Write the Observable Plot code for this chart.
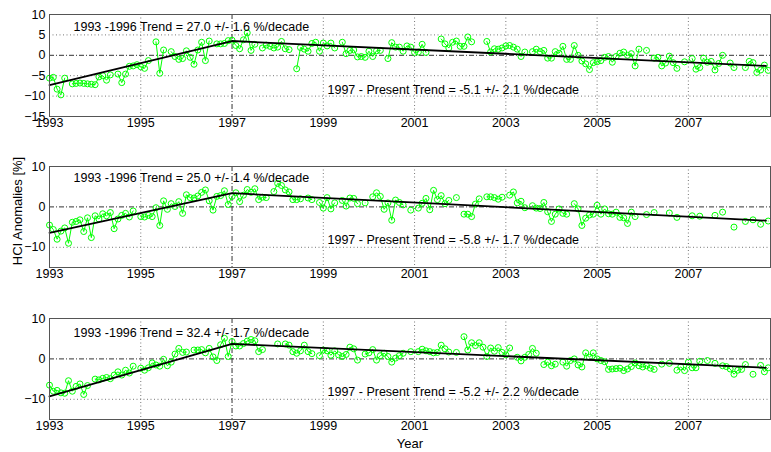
<!DOCTYPE html>
<html>
<head>
<meta charset="utf-8">
<script src="https://cdn.jsdelivr.net/npm/d3@7"></script>
<script src="https://cdn.jsdelivr.net/npm/@observablehq/plot@0.6"></script>
<style>
  html, body { margin: 0; padding: 0; background: #fff; }
  #wrap { width: 771px; height: 452px; position: relative; background: #fff; }
  #wrap svg { display: block; }
</style>
</head>
<body>
<div id="wrap"></div>
<script>
// ---- Data (monthly anomalies starting Jan 1993; null = missing month) ----
const startYear = 1993;
const hci1 = [
  -5.6,-5.4,-8.3,-9.7,-5.6,null,-7.0,-6.9,-6.8,-6.9,
  -7.0,-7.1,-7.2,-5.3,-5.0,-6.1,-4.8,null,-4.6,-6.7,
  -4.6,-2.7,-2.6,-2.3,-2.8,-3.2,-1.3,null,3.3,-4.4,
  1.3,null,0.9,-0.3,-1.0,-0.8,1.1,-0.5,-2.2,1.3,
  3.2,-1.3,3.5,null,2.8,2.8,2.9,3.6,3.7,2.4,
  1.6,3.8,5.5,1.2,2.7,null,1.8,2.5,2.2,1.8,
  2.0,3.4,1.6,1.4,null,-3.3,1.9,1.5,1.0,2.9,
  3.2,1.0,3.0,2.3,3.0,1.8,null,3.2,0.4,1.2,
  1.3,-0.4,-0.3,-0.5,1.0,-0.3,1.1,1.2,null,-0.8,
  3.1,2.0,2.0,1.0,2.3,2.0,0.7,0.8,2.7,0.7,
  null,null,null,4.0,2.8,1.8,3.2,3.5,2.2,2.2,
  4.5,3.3,null,null,null,3.4,0.8,1.6,1.5,1.8,
  2.3,2.4,2.0,1.5,-0.3,0.8,null,0.9,1.5,0.9,
  1.2,-0.7,-0.7,0.9,0.5,2.2,-1.0,-1.0,2.4,0.0,
  -1.4,-2.1,-3.5,-1.8,-1.6,-1.3,-0.5,-0.3,-1.7,-0.3,
  0.5,0.8,0.0,0.4,-2.6,1.5,null,1.2,null,-0.7,
  -0.5,-2.6,-1.9,-0.2,-1.8,-3.2,null,-1.6,null,-0.8,
  -3.4,-3.0,-0.7,-1.7,-1.5,-3.6,-2.0,0.0,null,-1.9,
  -3.0,null,null,-3.0,-1.5,-1.8,-4.2,-3.6,-2.4,-3.7
];
const hci2 = [
  -4.5,-5.6,-8.0,-6.0,-5.2,-9.0,-3.8,-3.6,-3.2,-6.1,
  -2.7,-7.6,-2.2,-3.0,-1.7,-2.2,-1.4,-5.4,-3.0,-2.1,
  -1.6,-2.5,-1.0,null,-2.4,-2.5,-2.1,-2.4,-0.2,-4.6,
  1.5,-0.6,0.8,0.1,1.3,-1.6,3.0,2.3,2.2,2.7,
  3.6,4.2,1.5,-0.8,2.6,2.8,4.0,0.6,2.6,3.5,
  1.3,2.9,4.3,3.6,4.5,1.8,2.4,2.3,null,3.8,
  5.8,5.3,4.2,3.7,1.8,1.8,2.0,null,2.2,1.8,
  null,1.1,-0.3,2.3,-0.5,1.0,null,1.6,0.2,2.2,
  2.1,0.8,null,1.0,null,2.5,3.5,2.6,-0.6,1.0,
  -3.3,1.7,1.1,0.5,null,-0.8,null,-0.3,0.9,2.1,
  -0.7,4.1,1.8,2.8,0.8,1.6,null,2.3,null,-1.8,
  -1.8,-2.4,0.7,2.0,null,2.5,2.5,2.3,1.9,2.4,
  null,2.9,3.7,1.0,1.4,-0.2,null,0.3,-0.3,-0.4,
  1.1,-1.2,-3.6,-1.8,-0.5,-1.6,-1.8,null,0.8,-0.5,
  -4.6,-2.8,-2.0,-1.8,0.4,-1.8,-0.5,-1.7,-1.8,-1.3,
  -2.6,-2.7,-4.1,-1.3,-2.4,null,null,-1.9,null,-1.4,
  null,null,null,-1.5,null,-2.6,null,null,null,-2.2,
  null,-2.3,null,null,null,-2.1,null,-1.3,null,null,
  -5.0,null,null,-3.6,null,-3.2,null,-4.3,null,-3.5
];
const hci3 = [
  -6.5,-8.0,-7.8,-8.4,-8.5,-5.4,-8.0,-6.8,-6.2,-8.8,
  -6.6,null,-5.0,-5.2,-4.8,-4.6,-4.9,-4.0,-3.2,-4.0,
  -2.8,-3.5,-1.8,null,-2.3,-2.8,-2.2,-1.0,-1.5,-1.8,
  -0.1,-1.7,-0.8,1.2,2.6,1.6,1.7,null,2.2,2.2,
  2.3,1.5,2.6,0.5,-0.4,3.5,5.1,0.6,4.3,3.2,
  3.2,3.8,4.4,4.8,4.5,1.8,2.3,null,null,null,
  3.7,null,3.7,3.4,1.8,1.4,2.0,3.4,1.8,1.3,
  null,0.8,2.2,2.0,0.9,2.0,1.0,0.6,1.1,2.9,
  2.5,-0.3,null,1.2,1.5,2.3,-0.3,0.8,1.4,0.6,
  -0.8,0.2,0.8,1.4,null,1.8,null,1.8,2.4,2.0,
  1.8,1.5,1.6,3.4,2.5,1.7,null,1.6,null,5.5,
  2.2,4.0,3.3,4.0,2.9,0.6,2.7,1.9,2.8,1.6,
  1.0,2.7,null,0.4,-0.5,0.4,1.1,2.6,1.4,null,
  -1.4,-0.8,-1.7,-1.3,null,-0.8,-1.8,-0.4,0.0,-1.5,
  -2.0,1.5,0.4,1.5,0.0,-0.4,-0.7,-2.6,-2.5,-2.4,
  -2.3,-2.9,-2.5,-1.9,-1.0,-1.7,-2.0,-1.7,-2.3,-2.6,
  null,-1.3,null,-1.1,null,-2.8,-2.0,-2.9,-0.8,-2.2,
  -2.2,-0.6,null,-0.4,null,-1.1,null,-1.7,-1.9,-2.5,
  -3.8,-2.8,-2.6,-1.4,null,-3.8,null,-1.6,-3.2,-2.2
];

// Piecewise trend lines
const trendYears = [1993, 1997, 2008.7];
const trend1 = [-7.3, 3.5, -2.6];
const trend2 = [-6.4, 3.4, -3.4];
const trend3 = [-9.3, 3.7, -2.2];

// Annotation texts
const earlyLabels = [
  "1993 -1996 Trend = 27.0 +/- 1.6 %/decade",
  "1993 -1996 Trend = 25.0 +/- 1.4 %/decade",
  "1993 -1996 Trend = 32.4 +/- 1.7 %/decade"
];
const lateLabels = [
  "1997 - Present Trend = -5.1 +/- 2.1 %/decade",
  "1997 - Present Trend = -5.8 +/- 1.7 %/decade",
  "1997 - Present Trend = -5.2 +/- 2.2 %/decade"
];

// Axis ticks
const xTicks = [1993, 1995, 1997, 1999, 2001, 2003, 2005, 2007];
const yTicksTop = [-15, -10, -5, 0, 5, 10];
const yTicksOther = [-10, 0, 10];
const xDomain = [1993, 2008.8];
const yDomain = [-15, 10];
const breakYear = 1997;
const yLabel = "HCI Anomalies [%]";
const xLabel = "Year";

// ---- Drawing ----
const FONT = "'Liberation Sans', Arial, Helvetica, sans-serif";
const GREEN = "#00ff00";

function rowsOf(arr) {
  return arr.map((v, i) => ({t: startYear + i / 12, v}));
}

function panel({values, trend, yTicks, height, marginTop, marginBottom, early, late, earlyDy, lateDy, extras}) {
  const rows = rowsOf(values);
  const pts = rows.filter(d => d.v != null);
  const trendRows = trendYears.map((t, i) => ({t, v: trend[i]}));
  return Plot.plot({
    width: 771,
    height,
    marginLeft: 49,
    marginRight: 1,
    marginTop,
    marginBottom,
    style: {fontFamily: FONT, fontSize: "12.5px", color: "#000", background: "#fff"},
    x: {domain: xDomain},
    y: {domain: yDomain},
    marks: [
      Plot.gridX(xTicks.filter(d => d !== breakYear), {stroke: "#777", strokeOpacity: 1, strokeDasharray: "1,2.5"}),
      Plot.gridY(yTicks.filter(d => d !== 0), {stroke: "#777", strokeOpacity: 1, strokeDasharray: "1,2.5"}),
      Plot.ruleY([0], {stroke: "#333", strokeWidth: 1, strokeDasharray: "5,2,1,2"}),
      Plot.ruleX([breakYear], {stroke: "#333", strokeWidth: 1, strokeDasharray: "5,2,1,2"}),
      Plot.line(rows, {x: "t", y: "v", stroke: GREEN, strokeWidth: 1}),
      Plot.dot(pts, {x: "t", y: "v", r: 3, stroke: GREEN, strokeWidth: 1, fill: "none"}),
      Plot.line(trendRows, {x: "t", y: "v", stroke: "#000", strokeWidth: 1.8}),
      Plot.frame({stroke: "#555"}),
      Plot.axisX(xTicks, {tickSize: 0, tickPadding: 2, tickFormat: d => String(d), label: null, fontSize: 12.5}),
      Plot.axisY(yTicks, {tickSize: 0, tickPadding: 4, label: null, fontSize: 12.5}),
      Plot.text([early], {frameAnchor: "top-left", dx: 24, dy: earlyDy, textAnchor: "start", lineAnchor: "middle", fontSize: 12.5, fill: "#000"}),
      Plot.text([late], {frameAnchor: "top-left", dx: 278, dy: lateDy, textAnchor: "start", lineAnchor: "middle", fontSize: 12.5, fill: "#000"}),
      ...(extras || [])
    ]
  });
}

const wrap = document.getElementById("wrap");
wrap.appendChild(panel({
  values: hci1, trend: trend1, yTicks: yTicksTop,
  height: 140, marginTop: 14, marginBottom: 24,
  early: earlyLabels[0], late: lateLabels[0], earlyDy: 12, lateDy: 75
}));
wrap.appendChild(panel({
  values: hci2, trend: trend2, yTicks: yTicksOther,
  height: 150, marginTop: 26, marginBottom: 23,
  early: earlyLabels[1], late: lateLabels[1], earlyDy: 11, lateDy: 73,
  extras: [Plot.text([yLabel], {frameAnchor: "left", dx: -32, dy: -6, rotate: -90, textAnchor: "middle", lineAnchor: "middle", fontSize: 13, fill: "#000"})]
}));
wrap.appendChild(panel({
  values: hci3, trend: trend3, yTicks: yTicksOther,
  height: 162, marginTop: 28, marginBottom: 33,
  early: earlyLabels[2], late: lateLabels[2], earlyDy: 14, lateDy: 73,
  extras: [Plot.text([xLabel], {frameAnchor: "bottom", dy: 24, textAnchor: "middle", lineAnchor: "middle", fontSize: 13, fill: "#000"})]
}));
</script>
</body>
</html>
